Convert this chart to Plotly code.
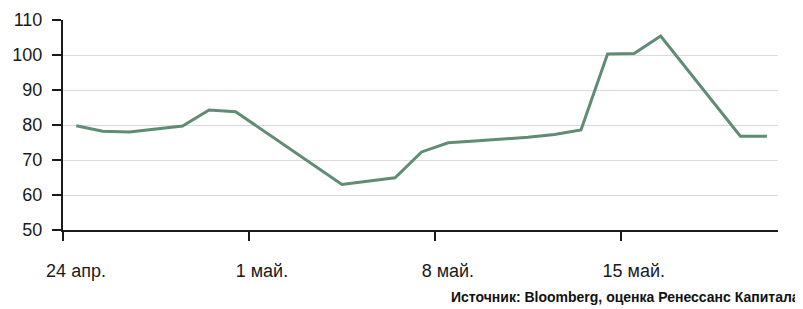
import pandas as pd
import plotly.graph_objects as go

dates = ["2009-04-24", "2009-04-25", "2009-04-26", "2009-04-27", "2009-04-28",
         "2009-04-29", "2009-04-30", "2009-05-04", "2009-05-05", "2009-05-06",
         "2009-05-07", "2009-05-08", "2009-05-09", "2009-05-10", "2009-05-11",
         "2009-05-12", "2009-05-13", "2009-05-14", "2009-05-15", "2009-05-16",
         "2009-05-19", "2009-05-20"]
values = [79.8, 78.2, 78.0, 78.8, 79.7,
          84.3, 83.8, 63.0, 63.9, 64.9,
          72.3, 74.9, 75.4, 75.9, 76.5,
          77.3, 78.6, 100.3, 100.4, 105.4,
          76.8, 76.8]
tick_dates = ["2009-04-24", "2009-05-01", "2009-05-08", "2009-05-15"]
tick_labels = ["24 апр.", "1 май.", "8 май.", "15 май."]
y_ticks = [50, 60, 70, 80, 90, 100, 110]
source = "Источник: Bloomberg, оценка Ренессанс Капитала"

# Points sit in the middle of each day (date axis, "between tick marks")
x = pd.to_datetime(dates) + pd.Timedelta(hours=12)

fig = go.Figure()
fig.add_trace(go.Scatter(x=x, y=values, mode="lines",
                         line=dict(color="#5f8c73", width=3),
                         showlegend=False, hoverinfo="skip"))

font = dict(family="Liberation Sans, Arial, sans-serif", size=18, color="#1a1a1a")

# page body has an 8px margin, so the figure is 795x301 to fill the 803x309 window
fig.update_layout(
    width=795, height=301,
    margin=dict(l=55, r=25, t=12, b=79),
    paper_bgcolor="white", plot_bgcolor="white",
    font=font,
    xaxis=dict(
        type="date", automargin=False,
        range=[pd.Timestamp("2009-04-24"), pd.Timestamp("2009-05-20 22:00")],
        tickmode="array",
        tickvals=pd.to_datetime(tick_dates),
        ticktext=tick_labels,
        ticks="outside", ticklen=9, tickwidth=2, tickcolor="#1a1a1a",
        ticklabelshift=13, ticklabelstandoff=14,
        showline=True, linecolor="#1a1a1a", linewidth=2,
        showgrid=False, zeroline=False, tickfont=font,
    ),
    yaxis=dict(
        range=[50, 110], automargin=False,
        tickmode="array", tickvals=y_ticks,
        ticks="outside", ticklen=9, tickwidth=2, tickcolor="#1a1a1a",
        ticklabelstandoff=6,
        showline=True, linecolor="#1a1a1a", linewidth=2,
        showgrid=True, gridcolor="#dadada", gridwidth=1,
        zeroline=False, tickfont=font,
    ),
    annotations=[dict(
        text=source, xref="paper", yref="paper", x=1.033, y=-0.319,
        xanchor="right", yanchor="middle", showarrow=False,
        font=dict(family="Liberation Sans, Arial, sans-serif", size=14,
                  color="#111111", weight="bold"),
    )],
)

fig.write_html("out.html")
